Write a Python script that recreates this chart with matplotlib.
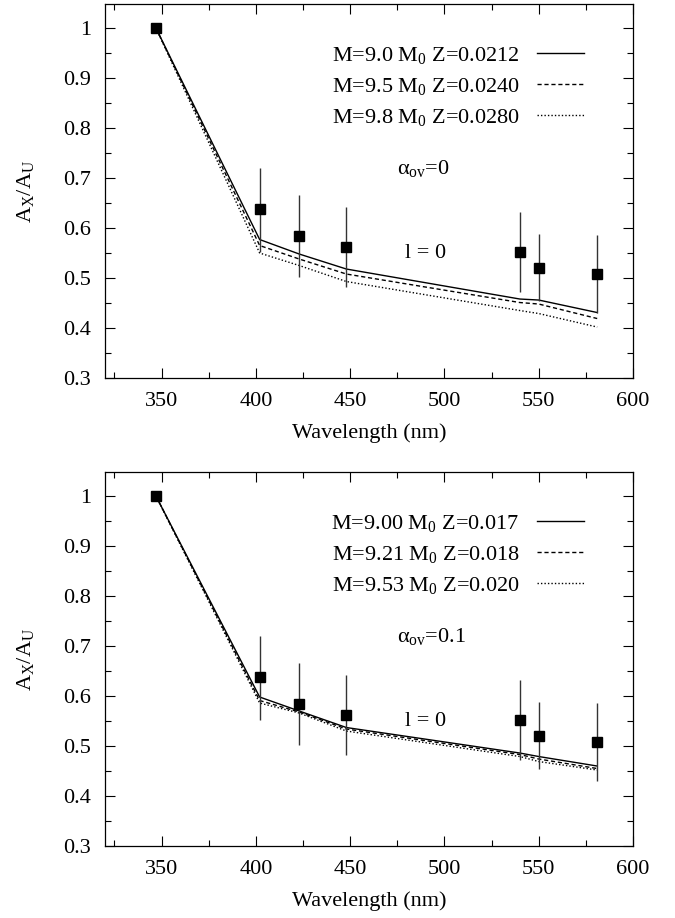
import matplotlib
matplotlib.use('Agg')
import matplotlib.pyplot as plt
from matplotlib.ticker import MultipleLocator, FuncFormatter
from matplotlib.lines import Line2D

plt.rcParams['font.family'] = ['Liberation Serif', 'DejaVu Serif']
plt.rcParams['mathtext.fontset'] = 'custom'
plt.rcParams['mathtext.rm'] = 'Liberation Serif'
plt.rcParams['mathtext.it'] = 'Liberation Serif:italic'
plt.rcParams['font.size'] = 16

# %% data
wl = [347, 402, 423, 448, 540, 550, 581]
obs = [1.0, 0.638, 0.584, 0.563, 0.552, 0.521, 0.509]
err_lo = [0.0, 0.085, 0.081, 0.080, 0.080, 0.067, 0.078]
err_hi = [0.0, 0.083, 0.082, 0.079, 0.080, 0.068, 0.078]

# top panel: alpha_ov = 0
labels_top = [r'M=9.0 M$_0$ Z=0.0212', r'M=9.5 M$_0$ Z=0.0240', r'M=9.8 M$_0$ Z=0.0280']
mod_top_1 = [1.0, 0.577, 0.548, 0.518, 0.458, 0.456, 0.431]
mod_top_2 = [1.0, 0.565, 0.538, 0.508, 0.451, 0.448, 0.419]
mod_top_3 = [1.0, 0.550, 0.525, 0.493, 0.435, 0.429, 0.402]

# bottom panel: alpha_ov = 0.1
labels_bot = [r'M=9.00 M$_0$ Z=0.017', r'M=9.21 M$_0$ Z=0.018', r'M=9.53 M$_0$ Z=0.020']
mod_bot_1 = [1.0, 0.598, 0.570, 0.537, 0.486, 0.479, 0.460]
mod_bot_2 = [1.0, 0.591, 0.568, 0.534, 0.483, 0.474, 0.455]
mod_bot_3 = [1.0, 0.586, 0.566, 0.530, 0.479, 0.469, 0.452]

styles = [dict(ls='-'), dict(ls=(0, (3, 2))), dict(ls=(0, (1, 1.5)))]


def panel(ax, models, labels, alpha_txt):
    for m, lab, st in zip(models, labels, styles):
        ax.plot(wl, m, color='black', lw=1.0, label=lab, **st)
    ax.errorbar(wl, obs, yerr=[err_lo, err_hi], fmt='none', ecolor='#333333',
                elinewidth=1.0, capsize=0)
    ax.plot(wl, obs, 's', color='black', markersize=7.5, ls='none')

    ax.set_xlim(320, 600)
    ax.set_ylim(0.3, 1.048)
    ax.xaxis.set_major_locator(MultipleLocator(50))
    ax.xaxis.set_minor_locator(MultipleLocator(25))
    ax.yaxis.set_major_locator(MultipleLocator(0.1))
    ax.yaxis.set_minor_locator(MultipleLocator(0.05))
    ax.yaxis.set_major_formatter(FuncFormatter(lambda v, p: '%g' % round(v, 2)))
    ax.tick_params(which='both', direction='in', top=True, right=True, width=0.8)
    ax.tick_params(which='major', length=7, pad=10)
    ax.tick_params(which='minor', length=4)
    for s in ax.spines.values():
        s.set_linewidth(0.9)

    ax.set_xlabel('Wavelength (nm)')
    ax.xaxis.set_label_coords(0.5, -0.122)
    ax.set_ylabel(r'A$_{\rm X}$/A$_{\rm U}$')
    ax.yaxis.set_label_coords(-0.13, 0.5)

    handles = [Line2D([], [], color='black', lw=1.0, **st) for st in styles]
    ax.legend(handles, labels, loc='upper right', bbox_to_anchor=(0.924, 0.914),
              frameon=False, markerfirst=False, handlelength=2.1,
              handletextpad=0.8, labelspacing=0.45, borderaxespad=0)

    ax.text(0.553, 0.56, alpha_txt, transform=ax.transAxes, ha='left', va='center')
    ax.text(0.608, 0.333, 'l = 0', transform=ax.transAxes, ha='center', va='center')


fig = plt.figure(figsize=(6.75, 9.18), dpi=100)
ax1 = fig.add_axes([0.1556, 0.5882, 0.7822, 0.4074])
ax2 = fig.add_axes([0.1556, 0.0784, 0.7822, 0.4074])

panel(ax1, [mod_top_1, mod_top_2, mod_top_3], labels_top, r'α$_{\rm ov}$=0')
panel(ax2, [mod_bot_1, mod_bot_2, mod_bot_3], labels_bot, r'α$_{\rm ov}$=0.1')

fig.savefig('out.png', dpi=100)
